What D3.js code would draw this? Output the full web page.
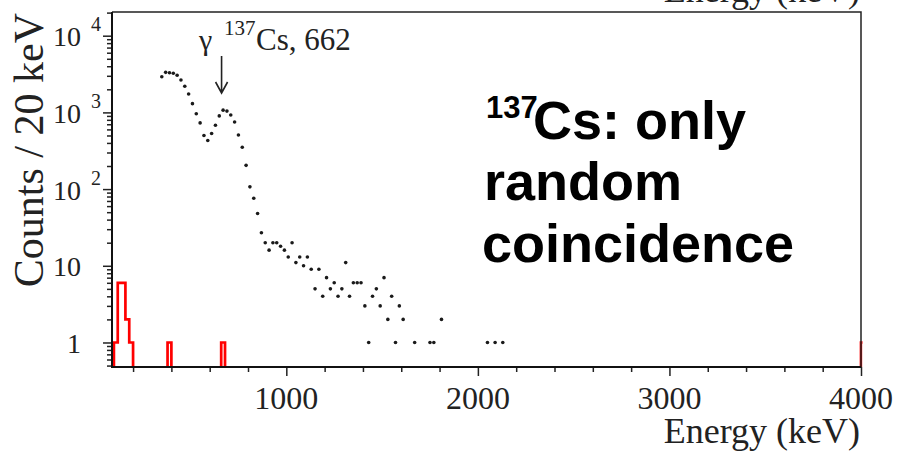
<!DOCTYPE html>
<html><head><meta charset="utf-8">
<script src="https://cdn.jsdelivr.net/npm/d3@7"></script>
<style>body{margin:0;background:#fff;} svg{display:block;}</style>
</head><body>
<svg id="chart" width="898" height="451"></svg>
<script>
// ---- data ----
const energies = [350,370,390,410,430,450,470,490,510,530,550,570,590,610,630,650,670,690,710,730,750,770,790,810,830,
  850,870,890,910,930,950,970,990,1010,1030,1050,1070,1090,1110,1130,1150,1170,1190,1210,1230,1250,1270,1290,1310,1330,
  1350,1370,1390,1410,1430,1450,1470,1490,1510,1530,1550,1570,1590,1610,1670,1750,1770,1810,2050,2090,2130];
const counts = [2920,3330,3290,3240,3050,2640,2190,1740,1300,960,730,500,430,530,680,900,1070,1040,925,750,507,351,204,107,76,
  48,27,20,16,20,20,18,16,13,20,11,13,10,13,9,5,9,4,7,5,6,4,5,11,4,
  6,6,6,3,1,4,5,3,7,2,4,1,3,2,1,1,1,2,1,1,1];
const coincCenters = [110,130,150,170,190,390,670,4010];
const coincCounts = [1,6,6,2,1,1,1,1];
const binWidth = 20;
const xTickLabels = [1000,2000,3000,4000];
const yDecades = [0,1,2,3,4];
const yLabels = ["1","10","10","10","10"];
const yExps = ["","","2","3","4"];

const svg = d3.select("#chart");
const serif = "'Liberation Serif','Times New Roman',serif";
const sans = "'Liberation Sans',Arial,sans-serif";

const x = d3.scaleLinear().domain([90,4000]).range([112,861]);
const y = d3.scaleLog().domain([0.479,20370]).range([367,12]);
const [y0] = y.range();

svg.append("clipPath").attr("id","frameClip").append("rect")
  .attr("x",x.range()[0]-2).attr("y",y.range()[1]).attr("width",x.range()[1]-x.range()[0]+3.5).attr("height",y0-y.range()[1]);

// ---- red coincidence histogram (drawn as step outline) ----
const bins = coincCenters.map((c,i)=>({lo:c-binWidth/2, hi:c+binWidth/2, v:coincCounts[i]}));
const runs=[]; bins.forEach(b=>{const last=runs[runs.length-1]; if(last && Math.abs(last[last.length-1].hi-b.lo)<1e-6) last.push(b); else runs.push([b]);});
const pathStr = runs.map(r=>{
  let s=`M${x(r[0].lo)},${y0}`;
  r.forEach(b=>{ s+=`V${y(b.v)}H${x(b.hi)}`; });
  s+=`V${y0}`; return s;
}).join("");
svg.append("path").attr("d",pathStr).attr("fill","none").attr("stroke","#ff0000").attr("stroke-width",2.7)
  .attr("clip-path","url(#frameClip)");

// ---- data points ----
svg.append("g").selectAll("circle").data(energies.map((e,i)=>[e,counts[i]])).join("circle")
  .attr("cx",d=>x(d[0])).attr("cy",d=>y(d[1])).attr("r",1.8).attr("fill","#1a1a1a");

// ---- axes ----
const xMinor = d3.range(200,4001,200).filter(v=>v%1000!==0);
const xMajor = d3.range(1000,4001,1000);
svg.append("g").attr("transform",`translate(0,${y0})`)
  .call(d3.axisBottom(x).tickValues(xMinor).tickSize(5).tickFormat(""))
  .call(g=>g.select(".domain").remove())
  .call(g=>g.selectAll("line").attr("stroke","#222").attr("stroke-width",1.5));
svg.append("g").attr("transform",`translate(0,${y0})`)
  .call(d3.axisBottom(x).tickValues(xMajor).tickSize(9).tickFormat(""))
  .call(g=>g.select(".domain").remove())
  .call(g=>g.selectAll("line").attr("stroke","#222").attr("stroke-width",1.5));
svg.append("g").selectAll("text").data(xTickLabels).join("text")
  .attr("x",d=>x(d)).attr("y",409).attr("text-anchor","middle")
  .attr("font-family",serif).attr("font-size",32).attr("fill","#222").text(d=>d);

const yMinor=[]; const yMajor=[];
[-1,0,1,2,3,4].forEach(d=>{ for(let k=1;k<=9;k++){ const v=k*Math.pow(10,d); if(v>=0.479&&v<=20370){ (k===1?yMajor:yMinor).push(v);} }});
const xl = x.range()[0];
svg.append("g").attr("transform",`translate(${xl},0)`)
  .call(d3.axisLeft(y).tickValues(yMinor).tickSize(5).tickFormat(""))
  .call(g=>g.select(".domain").remove())
  .call(g=>g.selectAll("line").attr("stroke","#222").attr("stroke-width",1.5));
svg.append("g").attr("transform",`translate(${xl},0)`)
  .call(d3.axisLeft(y).tickValues(yMajor).tickSize(9).tickFormat(""))
  .call(g=>g.select(".domain").remove())
  .call(g=>g.selectAll("line").attr("stroke","#222").attr("stroke-width",1.5));
const yl = svg.append("g");
yDecades.forEach((d,i)=>{
  const yy = y(Math.pow(10,d));
  yl.append("text").attr("x",81).attr("y",yy+10.5).attr("text-anchor","end")
    .attr("font-family",serif).attr("font-size",28).attr("fill","#222").text(yLabels[i]);
  if(yExps[i]) yl.append("text").attr("x",91).attr("y",yy-4.5)
    .attr("font-family",serif).attr("font-size",20).attr("fill","#222").text(yExps[i]);
});

// frame
svg.append("path").attr("d",`M${x.range()[0]},${y.range()[1]}H${x.range()[1]}V${y0}`)
  .attr("fill","none").attr("stroke","#222").attr("stroke-width",1.5);
svg.append("path").attr("d",`M${x.range()[0]},${y.range()[1]}V${y0}H${x.range()[1]}`)
  .attr("fill","none").attr("stroke","#111").attr("stroke-width",2);

// axis titles
svg.append("text").attr("transform","translate(43,0) rotate(-90)").attr("x",-13).attr("y",0)
  .attr("text-anchor","end").attr("font-family",serif).attr("font-size",42).attr("fill","#222").text("Counts / 20 keV");
svg.append("text").attr("x",860).attr("y",443).attr("text-anchor","end")
  .attr("font-family",serif).attr("font-size",36).attr("fill","#222").text("Energy (keV)");
// cut-off title of the panel above
svg.append("text").attr("x",860).attr("y",2).attr("text-anchor","end")
  .attr("font-family",serif).attr("font-size",36).attr("fill","#222").text("Energy (keV)");

// peak annotation
const ann = svg.append("g").attr("font-family",serif).attr("fill","#222");
ann.append("text").attr("x",199).attr("y",50).attr("font-size",30).text("γ");
ann.append("text").attr("x",224).attr("y",35).attr("font-size",21).text("137");
ann.append("text").attr("x",256).attr("y",50).attr("font-size",31).text("Cs, 662");
const ax = x(662);
svg.append("path").attr("d",`M${ax},56V93M${ax-6},82L${ax},93L${ax+6},82`)
  .attr("fill","none").attr("stroke","#222").attr("stroke-width",1.6);

// big note
const note = svg.append("g").attr("font-family",sans).attr("font-weight","bold").attr("fill","#000");
note.append("text").attr("x",486).attr("y",118).attr("font-size",31).text("137");
note.append("text").attr("x",533).attr("y",139).attr("font-size",54).text("Cs: only");
note.append("text").attr("x",484).attr("y",200).attr("font-size",54).text("random");
note.append("text").attr("x",482).attr("y",262).attr("font-size",54).text("coincidence");
</script>
</body></html>
